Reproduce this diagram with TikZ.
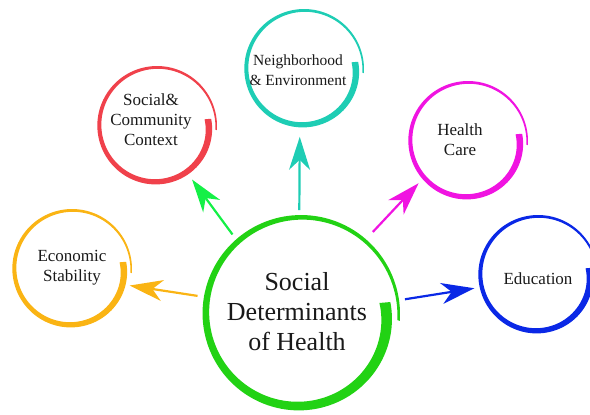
\documentclass[tikz,border=0pt]{standalone}
\usepackage{fontspec}
\setmainfont{Liberation Serif}
\usepackage{tikz}
\usetikzlibrary{arrows.meta,positioning,calc}
\definecolor{txt}{RGB}{25,25,25}
\definecolor{socgreen}{RGB}{34,210,20}
\definecolor{armgreen}{RGB}{20,240,70}
\definecolor{econcol}{RGB}{250,180,20}
\definecolor{commcol}{RGB}{240,65,75}
\definecolor{neighcol}{RGB}{30,205,180}
\definecolor{carecol}{RGB}{240,20,225}
\definecolor{educol}{RGB}{10,40,230}
\tikzstyle{spot} = [
  circle,
  minimum size=120pt,
  inner sep=0pt,
  outer sep=0pt]
\tikzstyle{topic} = [
  align=center,
  text=txt,
  font=\fontsize{17}{20}\selectfont]
\tikzstyle{spoke} = [
  line width=2.2pt,
  -{Stealth[length=33pt,width=21pt,inset=10pt]}]
% brush stroke circle round a node: node, radius, colour
\newcommand{\brushring}[3]{
  \fill[#3, shift={(#1.center)}]
    plot[domain=0:1, samples=140] ({-4+372*\x}:{#2*(1-0.09*\x*\x*\x*\x)})
    -- plot[domain=1:0, samples=140] ({-4+372*\x}:{#2*(1-0.09*\x*\x*\x*\x) - #2*(0.025+0.085*\x)})
    -- cycle;}

\begin{document}
\begin{tikzpicture}[x=1pt, y=1pt]
  \useasboundingbox (0,0) rectangle (590,415);
  \clip (0,0) rectangle (590,415);

  \node[spot, minimum size=198pt] (soc) at (301,101) {};
  \node[spot] (econ) at (72,146) {};
  \node[spot] (comm) at (157,289) {};
  \node[spot] (neigh) at (304,346) {};
  \node[spot] (care) at (468,274) {};
  \node[spot] (educ) at (538,140) {};

  \brushring{soc}{99}{socgreen}
  \brushring{econ}{60}{econcol}
  \brushring{comm}{60}{commcol}
  \brushring{neigh}{60}{neighcol}
  \brushring{care}{60}{carecol}
  \brushring{educ}{60}{educol}

  \node[topic, font=\fontsize{26}{30}\selectfont] (soclabel)
    at ([shift={(-4,2)}]soc) {Social\\Determinants\\of Health};
  \node[topic] (econlabel) at ([shift={(0,1)}]econ) {Economic\\Stability};
  \node[topic] (commlabel) at ([shift={(-6,6)}]comm) {Social\&\\Community\\Context};
  \node[topic, font=\fontsize{15.5}{20}\selectfont] (neighlabel)
    at ([shift={(-6,-1)}]neigh) {Neighborhood\\\& Environment};
  \node[topic] (carelabel) at ([shift={(-8,1)}]care) {Health\\Care};
  \node[topic] (edulabel) at ([shift={(0,-4)}]educ) {Education};

  \draw[spoke, econcol, shorten <=6pt] (soc.170) -- (econ.-16);
  \draw[spoke, armgreen, shorten <=6pt, shorten >=4pt] (soc.131) -- (comm.-57);
  \draw[spoke, neighcol, shorten <=5pt, shorten >=8pt] (soc.91) -- (neigh.-94);
  \draw[spoke, carecol, shorten <=10pt, shorten >=5pt] (soc.49) -- (care.220);
  \draw[spoke, educol, shorten <=6pt, shorten >=5pt] (soc.8) -- (educ.192);
\end{tikzpicture}
\end{document}
